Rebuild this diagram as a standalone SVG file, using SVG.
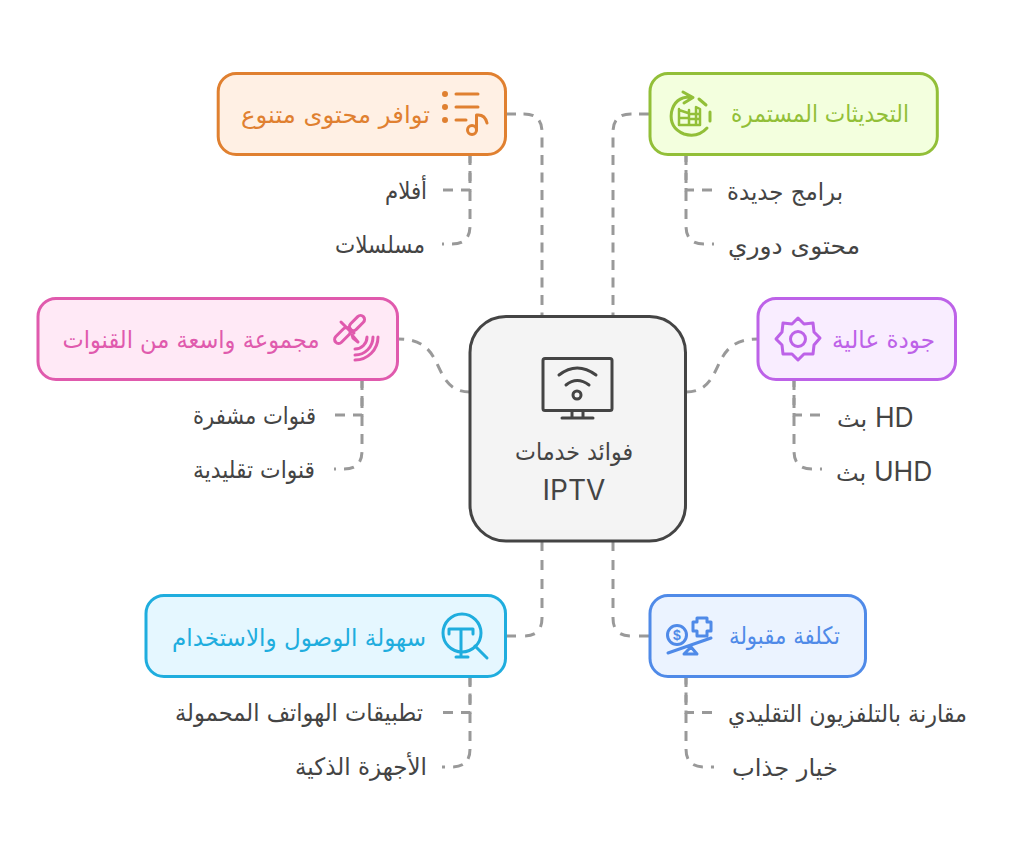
<svg xmlns="http://www.w3.org/2000/svg" width="1011" height="858" viewBox="0 0 1011 858">
<style>
text{font-family:"DejaVu Sans","Noto Sans",sans-serif;font-size:24px;text-anchor:middle}
.l{font-family:Inter,"Liberation Sans",sans-serif;font-size:28px}
.s{font-family:Inter,"Liberation Sans",sans-serif;font-size:26.500px}
.c{fill:none;stroke:#999;stroke-width:3;stroke-dasharray:10 8}
.b{stroke-width:3}
.t{fill:#444}
.i{fill:none;stroke-width:3;stroke-linecap:round;stroke-linejoin:round}
</style>
<rect width="1011" height="858" fill="#fff"/>
<g id="connectors">
<path class="c" style="stroke-dasharray:10 7.500" d="M506 114H524Q542 114 542 132V317"/>
<path class="c" style="stroke-dasharray:10 7.500" d="M649 114H631Q613 114 613 132V317"/>
<path class="c" d="M470 392C446 392 442 372 435 360C428 346 418 339 398 339"/>
<path class="c" d="M686 392C710 392 714 372 721 360C728 346 738 339 758 339"/>
<path class="c" style="stroke-dasharray:10 9" d="M506 636H524Q542 636 542 618V541"/>
<path class="c" style="stroke-dasharray:10 9" d="M649 636H631Q613 636 613 618V541"/>
<path class="c" d="M443 190H470V155"/>
<path class="c" d="M470 155V226Q470 244 452 244H442"/>
<path class="c" d="M712 190H686V155"/>
<path class="c" d="M686 155V226Q686 244 704 244H714"/>
<path class="c" d="M335 415H362V380"/>
<path class="c" d="M362 380V451Q362 469 344 469H334"/>
<path class="c" d="M820 415H794V380"/>
<path class="c" d="M794 380V451Q794 469 812 469H822"/>
<path class="c" d="M443 712.500H470V677"/>
<path class="c" d="M470 677V749Q470 767 452 767H442"/>
<path class="c" d="M712 712.500H686V677"/>
<path class="c" d="M686 677V749Q686 767 704 767H714"/>
</g>
<g id="center">
<rect x="470" y="316.500" width="215.500" height="224.500" rx="36" fill="#f4f4f4" stroke="#444" class="b"/>
<g class="i" stroke="#444">
<rect x="543" y="358.500" width="69" height="52" rx="2"/>
<path d="M559 375Q577 361 596 375M566 385Q577 376 589 385M572 411V418M583 411V418M562 418H593"/>
<circle cx="577" cy="395" r="4"/>
</g>
<text class="t" x="574" y="460" textLength="118" lengthAdjust="spacingAndGlyphs">فوائد خدمات</text>
<text class="t l" x="574" y="500">IPTV</text>
</g>
<g id="n1">
<rect x="218.200" y="73.500" width="287.300" height="81" rx="18" fill="#fff0e4" stroke="#e08030" class="b"/>
<g class="i" stroke="#e08030"><path d="M456 94H478M456 107H478M456 120H466"/><circle cx="445" cy="94" r="1.500"/><circle cx="445" cy="107" r="1.500"/><circle cx="445" cy="120" r="1.500"/><circle cx="472" cy="130" r="4.500"/><path d="M476.500 130V115Q485 114 487 123"/></g>
<text x="335.500" y="123" fill="#e08030" textLength="189" lengthAdjust="spacingAndGlyphs">توافر محتوى متنوع</text>
</g>
<g id="n1a"><text class="t" x="406" y="199" textLength="42" lengthAdjust="spacingAndGlyphs">أفلام</text></g>
<g id="n1b"><text class="t" x="380" y="253" textLength="90" lengthAdjust="spacingAndGlyphs">مسلسلات</text></g>
<g id="n2">
<rect x="650" y="73.500" width="287.300" height="81" rx="18" fill="#f3ffde" stroke="#92bf38" class="b"/>
<g class="i" stroke="#92bf38"><path d="M683 92L693 97.500L684 103M692 97Q675 96 671.500 112Q669 128 684 134Q698 138 707 128M710 121V112M706 105L699 99"/><path d="M679 109V125H700V109L696 107V125M689 110V125M679 110L688 113M691 114H699M691 119H699M680 118H688" stroke-width="2.500"/></g>
<text x="820" y="122" fill="#92bf38" textLength="178" lengthAdjust="spacingAndGlyphs">التحديثات المستمرة</text>
</g>
<g id="n2a"><text class="t" x="785" y="200" textLength="116" lengthAdjust="spacingAndGlyphs">برامج جديدة</text></g>
<g id="n2b"><text class="t" x="794" y="254" textLength="132" lengthAdjust="spacingAndGlyphs">محتوى دوري</text></g>
<g id="n3">
<rect x="38" y="298.500" width="359.500" height="81" rx="18" fill="#ffe9f6" stroke="#e05aad" class="b"/>
<g class="i" stroke="#e05aad"><rect x="333" y="331.500" width="19" height="8" rx="4" transform="rotate(-45 342.500 335.500)"/><rect x="348" y="319" width="18" height="8" rx="4" transform="rotate(-45 357 323)"/><path d="M341 322L351 332M349 328L354 333M352 335L358 342L353 338Z"/><path d="M355 360A23 23 0 0 0 378 337M355 355A18 18 0 0 0 373 337M355 349A12 12 0 0 0 367 337"/></g>
<text x="191" y="348" fill="#e05aad" textLength="257" lengthAdjust="spacingAndGlyphs">مجموعة واسعة من القنوات</text>
</g>
<g id="n3a"><text class="t" x="254.500" y="424" textLength="123" lengthAdjust="spacingAndGlyphs">قنوات مشفرة</text></g>
<g id="n3b"><text class="t" x="254" y="478" textLength="122" lengthAdjust="spacingAndGlyphs">قنوات تقليدية</text></g>
<g id="n4">
<rect x="758" y="298.500" width="197.500" height="81" rx="18" fill="#f9edff" stroke="#bd62e8" class="b"/>
<g class="i" stroke="#bd62e8"><circle cx="798" cy="339" r="7.500"/><path d="M798 318L804 324L813 323L814 332L820 338L814 345L813 354L804 354L798 360L792 354L783 354L782 345L776 339L782 332L783 323L792 324Z"/></g>
<text x="883.500" y="348" fill="#bd62e8" textLength="103" lengthAdjust="spacingAndGlyphs">جودة عالية</text>
</g>
<g id="n4a"><text class="t" x="837" y="427" style="text-anchor:start">بث <tspan class="s">HD</tspan></text></g>
<g id="n4b"><text class="t" x="836" y="481" style="text-anchor:start">بث <tspan class="s">UHD</tspan></text></g>
<g id="n5">
<rect x="146" y="595.500" width="359.500" height="81" rx="18" fill="#e5f7ff" stroke="#1fadde" class="b"/>
<g class="i" stroke="#1fadde"><circle cx="462" cy="633" r="19"/><path d="M475 646L487 658M449 634V629H473V634M461 629V657M456 657H468"/></g>
<text x="299" y="646" fill="#1fadde" textLength="254" lengthAdjust="spacingAndGlyphs">سهولة الوصول والاستخدام</text>
</g>
<g id="n5a"><text class="t" x="299" y="721" textLength="248" lengthAdjust="spacingAndGlyphs">تطبيقات الهواتف المحمولة</text></g>
<g id="n5b"><text class="t" x="361" y="775" textLength="132" lengthAdjust="spacingAndGlyphs">الأجهزة الذكية</text></g>
<g id="n6">
<rect x="650" y="595.500" width="215.500" height="81" rx="18" fill="#ebf3ff" stroke="#4f8ae8" class="b"/>
<g class="i" stroke="#4f8ae8"><circle cx="677" cy="635" r="9.500"/><path d="M668 653L711 638M684 654L691 647L697 654ZM697 618H707V622H711V631H707V636H697V631H693V622H697Z"/></g>
<text x="784.500" y="644" fill="#4f8ae8" textLength="111" lengthAdjust="spacingAndGlyphs">تكلفة مقبولة</text>
<text x="677" y="640" fill="#4f8ae8" style="font-family:'Liberation Sans',sans-serif;font-size:14px;font-weight:700">$</text>
</g>
<g id="n6a"><text class="t" x="847.500" y="722" textLength="239" lengthAdjust="spacingAndGlyphs">مقارنة بالتلفزيون التقليدي</text></g>
<g id="n6b"><text class="t" x="785" y="776" textLength="106" lengthAdjust="spacingAndGlyphs">خيار جذاب</text></g>
</svg>
